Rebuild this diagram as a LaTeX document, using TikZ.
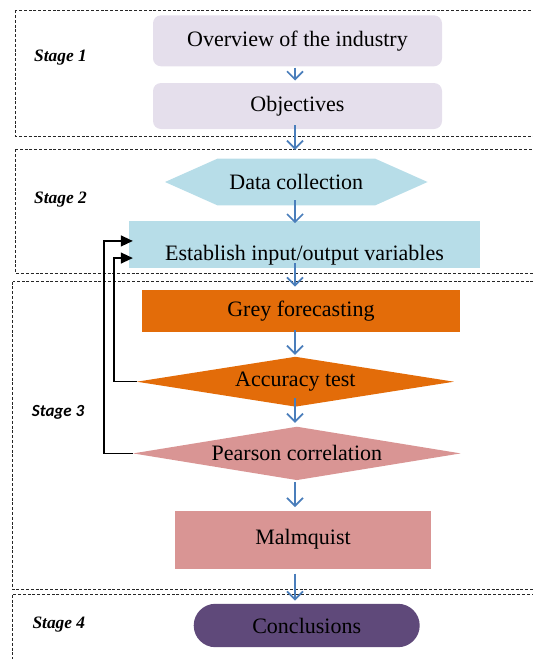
\documentclass[tikz,border=0pt]{standalone}
\usepackage{fontspec}
\setmainfont{Liberation Serif}
\newfontfamily\calibrifont{Carlito}
\usepackage{tikz}
\usetikzlibrary{arrows.meta,calc,shapes.geometric,shapes.misc,shapes.symbols}
\definecolor{lilac}{HTML}{E5DFEC}
\definecolor{sky}{HTML}{B7DDE8}
\definecolor{amber}{HTML}{E36C09}
\definecolor{rose}{HTML}{D99594}
\definecolor{plum}{HTML}{5F497A}
\definecolor{flowblue}{HTML}{4A7EBB}

\begin{document}
\begin{tikzpicture}[x=1pt, y=-1pt,
  txt/.style={font=\fontsize{22}{26}\selectfont, inner sep=0pt},
  rbox/.style={txt, rectangle, rounded corners=8pt, fill=lilac, minimum width=289pt},
  flow/.style={-{Straight Barb[length=8pt,width=16pt]}, line width=1.7pt, flowblue},
  back/.style={-{Triangle[length=12pt,width=11pt]}, line width=1.3pt, black},
  stagebox/.style={dash pattern=on 3pt off 1.8pt, line width=0.9pt, black!85},
  stagelabel/.style={font=\fontsize{17.4}{20}\selectfont\bfseries\itshape, anchor=base west, inner sep=0pt}]
\useasboundingbox (0,0) rectangle (533,659);
% stage frames
\draw[stagebox] (15.3,10.2) rectangle (560,136);
\draw[stagebox] (15.3,149.2) rectangle (560,273);
\draw[stagebox] (12.5,281.5) rectangle (560,589.6);
\draw[stagebox] (12,594.7) rectangle (560,680);
\node[stagelabel] (s1) at (34,61) {Stage 1};
\node[stagelabel] (s2) at (34,203) {Stage 2};
\node[stagelabel, font=\fontsize{17}{20}\selectfont\calibrifont\bfseries\itshape] (s3) at (31.7,416.7) {Stage 3};
\node[stagelabel] (s4) at (32.3,628) {Stage 4};
% stage 1
\node[rbox, minimum height=51pt] (over) at (297.5,40.8) {Overview of the industry};
\node[rbox, minimum height=46pt] (obj) at (297.5,106) {Objectives};
% stage 2
\node[txt, signal, signal to=west and east, signal pointer angle=48, fill=sky, minimum width=262.6pt, minimum height=46.6pt] (data) at (296.3,182) {Data collection};
\node[txt, fill=sky, minimum width=351pt, text height=39.5pt, text depth=7pt] (estab) at (304.5,244.35) {Establish input/output variables};
% stage 3
\node[txt, fill=amber, minimum width=318.3pt, minimum height=41.7pt] (grey) at (300.9,310.9) {Grey forecasting};
\node[txt, diamond, aspect=6.3, fill=amber, minimum width=317.3pt, minimum height=50pt] (acc) at (295.4,381.7) {Accuracy test};
\node[txt, diamond, aspect=6.1, fill=rose, minimum width=327.7pt, minimum height=53.5pt] (pear) at (296.9,453.4) {Pearson correlation};
\node[txt, fill=rose, minimum width=256pt, minimum height=57.8pt] (malm) at (303,539.7) {Malmquist};
% stage 4
\node[txt, rounded rectangle, fill=plum, minimum width=226pt, minimum height=43.4pt] (concl) at (306.7,625.5) {Conclusions};
% flow arrows
\coordinate (axis) at (295,0);
\foreach \a/\b/\s/\e in {over/obj/1/-2.3, obj/data/-4/-8.7, data/estab/-5.3/2.3, estab/grey/-4.7/-3.3,
  grey/acc/-1.7/-1.7, acc/pear/-8.7/-3.7, pear/malm/1.5/-3.5, malm/concl/4.7/-3}
  \draw[flow] ($(\a.south -| axis)+(0,\s)$) -- ($(\b.north -| axis)+(0,\e)$);
% feedback loops
\draw[back] (acc.west) -- ++(-22.7,0) |- ($(estab.west)+(4,13.7)$);
\draw[back] (pear.west) -- ++(-29,0) |- ($(estab.west)+(4,-3.4)$);
\end{tikzpicture}
\end{document}
